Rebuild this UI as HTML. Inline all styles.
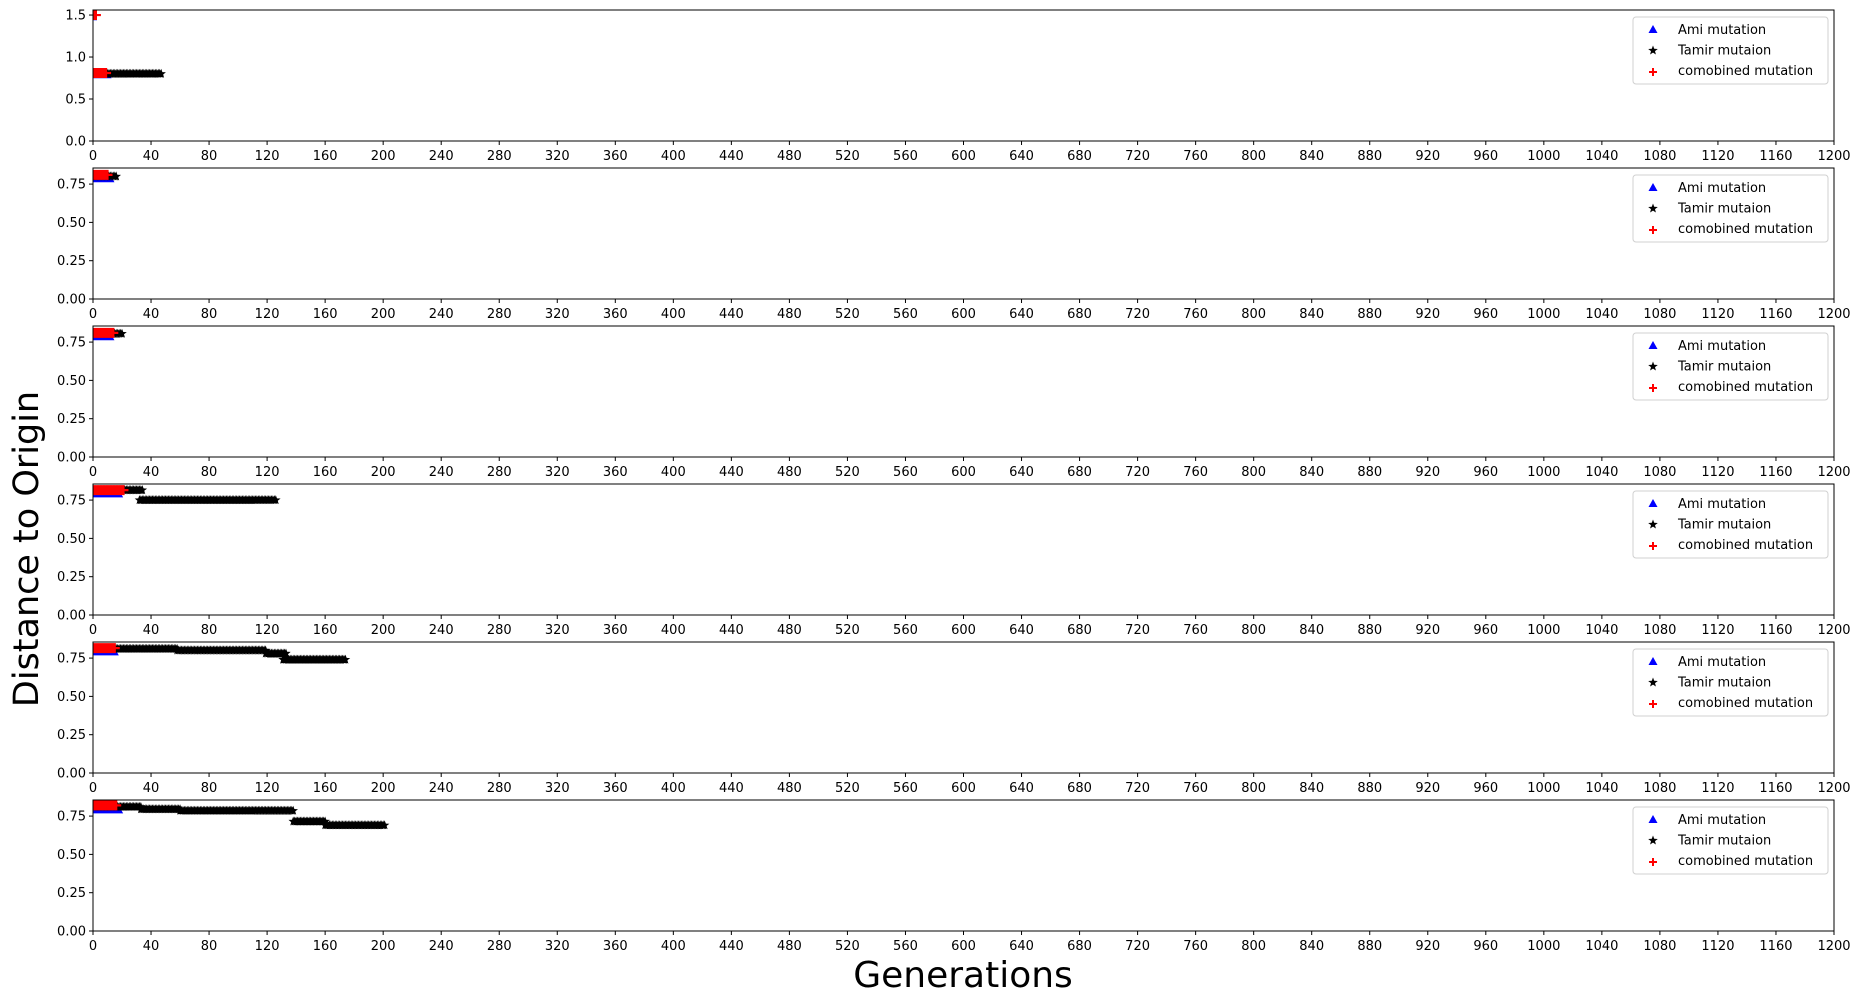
<!DOCTYPE html>
<html><head><meta charset="utf-8"><style>
body{margin:0;background:#fff;}
svg{display:block;font-family:"DejaVu Sans","Liberation Sans",sans-serif;}
</style></head><body>
<svg id="chart" width="1853" height="1000"></svg>
<script>
// step data per panel: [startGen, endGen, value]
const panelYMax = [1.56, 0.855, 0.855, 0.855, 0.855, 0.855];
const panelYTicks = [[0,0.5,1.0,1.5],[0,0.25,0.5,0.75],[0,0.25,0.5,0.75],[0,0.25,0.5,0.75],[0,0.25,0.5,0.75],[0,0.25,0.5,0.75]];
const panelYLabels = [["0.0","0.5","1.0","1.5"],["0.00","0.25","0.50","0.75"],["0.00","0.25","0.50","0.75"],["0.00","0.25","0.50","0.75"],["0.00","0.25","0.50","0.75"],["0.00","0.25","0.50","0.75"]];
const xTicks = [0,40,80,120,160,200,240,280,320,360,400,440,480,520,560,600,640,680,720,760,800,840,880,920,960,1000,1040,1080,1120,1160,1200];
const amiSteps = [
  [[0,0,1.47],[0,10,0.78]],
  [[0,12,0.78]],
  [[0,12,0.78]],
  [[0,18,0.785]],
  [[0,15,0.785]],
  [[0,18,0.785]]
];
const tamirSteps = [
  [[0,47,0.80]],
  [[0,16,0.80]],
  [[0,20,0.805]],
  [[0,34,0.815],[32,126,0.75]],
  [[0,58,0.81],[58,119,0.80],[119,133,0.78],[131,174,0.74]],
  [[0,33,0.81],[33,60,0.795],[60,138,0.785],[138,160,0.715],[160,201,0.69]]
];
const combSteps = [
  [[1,2,1.5],[0,9,0.81]],
  [[0,10,0.81]],
  [[0,14,0.81]],
  [[0,21,0.815]],
  [[0,15,0.815]],
  [[0,16,0.82]]
];

const NS="http://www.w3.org/2000/svg";
const svg=document.getElementById('chart');
const X0=93,X1=1834,XMAX=1200;
function xs(v){return X0+(X1-X0)*v/XMAX;}
function mk(tag,attrs,parent){const e=document.createElementNS(NS,tag);for(const k in attrs)e.setAttribute(k,attrs[k]);(parent||svg).appendChild(e);return e;}
function starPath(cx,cy,r){let d="";for(let i=0;i<10;i++){const a=-Math.PI/2+i*Math.PI/5;const rr=i%2?r*0.42:r;d+=(i?"L":"M")+(cx+rr*Math.cos(a)).toFixed(1)+","+(cy+rr*Math.sin(a)).toFixed(1);}return d+"Z";}
function triPath(cx,cy,r){return `M${cx},${cy-r}L${cx+r*0.9},${cy+r*0.6}L${cx-r*0.9},${cy+r*0.6}Z`;}
function plusPath(cx,cy,r){return `M${cx-r},${cy}H${cx+r}M${cx},${cy-r}V${cy+r}`;}

for(let p=0;p<6;p++){
  const top=10+p*158, bot=top+131;
  const ys=v=>bot-(bot-top)*v/panelYMax[p];
  const g=mk('g',{});
  
  
  const clip=mk('clipPath',{id:'c'+p},g);
  mk('rect',{x:X0,y:top,width:X1-X0,height:bot-top},clip);
  const marks=mk('g',{'clip-path':`url(#c${p})`},g);
  let d="";
  amiSteps[p].forEach(s=>{for(let gen=s[0];gen<=s[1];gen++)d+=triPath(xs(gen),ys(s[2]),4.5);});
  const am=mk('path',{d:d,fill:'#0000ff'},marks);
  
  
  d="";
  tamirSteps[p].forEach(s=>{for(let gen=s[0];gen<=s[1];gen++)d+=starPath(xs(gen),ys(s[2]),5);});
  const tm=mk('path',{d:d,fill:'#000'},marks);
  
  
  d="";
  combSteps[p].forEach(s=>{for(let gen=s[0];gen<=s[1];gen++)d+=plusPath(xs(gen),ys(s[2]),5);});
  const cm=mk('path',{d:d,stroke:'#ff0000','stroke-width':2.2,fill:'none'},marks);
  
  
  const fr=mk('rect',{x:X0,y:top,width:X1-X0,height:bot-top,fill:'none',stroke:'#000','stroke-width':1},g);
  
  
  panelYTicks[p].forEach((v,i)=>{
    const y=ys(v);
    mk('line',{x1:X0-4,x2:X0,y1:y,y2:y,stroke:'#000'},g);
    const t=mk('text',{x:X0-7,y:y+4.5,'text-anchor':'end','font-size':13},g);
    t.textContent=panelYLabels[p][i];
    
    
  });
  xTicks.forEach(v=>{
    const x=xs(v);
    mk('line',{x1:x,x2:x,y1:bot,y2:bot+4,stroke:'#000'},g);
    const t=mk('text',{x:x,y:bot+19,'text-anchor':'middle','font-size':13},g);
    t.textContent=v;
    
    
  });
  const lg=mk('g',{},g);
  
  
  mk('rect',{x:1633,y:top+7,width:195,height:67,rx:3,fill:'#fff','fill-opacity':0.8,stroke:'#d0d0d0'},lg);
  const names=['Ami mutation','Tamir mutaion','comobined mutation'];
  names.forEach((n,i)=>{
    const y=top+19+i*20.5;
    if(i==0)mk('path',{d:triPath(1653,y+1,5),fill:'#0000ff'},lg);
    if(i==1)mk('path',{d:starPath(1653,y+1,5),fill:'#000'},lg);
    if(i==2)mk('path',{d:plusPath(1653,y+2,4),stroke:'#ff0000','stroke-width':2,fill:'none'},lg);
    const t=mk('text',{x:1678,y:y+5,'font-size':13},lg);
    t.textContent=n;
    
    
  });
}
const yl=mk('text',{x:0,y:0,'font-size':35,'text-anchor':'middle',transform:'translate(38,549) rotate(-90)'});
yl.textContent='Distance to Origin';


const xl=mk('text',{x:963,y:987,'font-size':36,'text-anchor':'middle'});
xl.textContent='Generations';


</script>
</body></html>
